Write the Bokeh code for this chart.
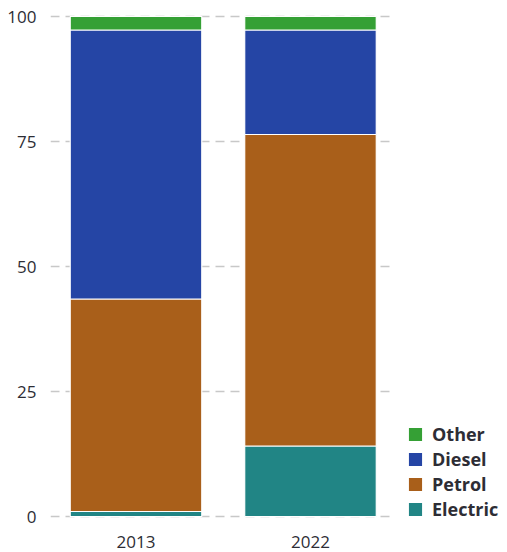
from bokeh.plotting import figure
from bokeh.models import Range1d, Legend, LegendItem, FixedTicker, ColumnDataSource
from bokeh.embed import file_html
from bokeh.resources import INLINE

years = ["2013", "2022"]
fuels = ["Electric", "Petrol", "Diesel", "Other"]
electric = [1.0, 14.1]
petrol = [42.5, 62.3]
diesel = [53.8, 20.9]
other = [2.7, 2.7]
colors = ["#218585", "#a95f1a", "#2545a5", "#35a035"]
y_ticks = [0, 25, 50, 75, 100]

FONT = "Open Sans"
xs = list(range(len(years)))
src = ColumnDataSource(dict(x=xs, Electric=electric, Petrol=petrol, Diesel=diesel, Other=other))

p = figure(frame_width=342, frame_height=506, output_backend="svg", toolbar_location=None,
           x_range=Range1d(-0.49, 1.47), y_range=Range1d(-0.4, 100.8),
           min_border_left=50, min_border_top=12, min_border_bottom=36, min_border_right=0)
p.outline_line_color = None

rs = p.vbar_stack(fuels, x="x", width=0.754, color=colors, source=src,
                  line_color="white", line_width=1.2)

p.xgrid.grid_line_color = None
p.ygrid.grid_line_color = "#c8c8c8"
p.ygrid.grid_line_dash = "9 6"
p.ygrid.grid_line_width = 1.5

p.yaxis.ticker = FixedTicker(ticks=y_ticks)
p.xaxis.ticker = FixedTicker(ticks=xs)
p.xaxis.major_label_overrides = {i: y for i, y in enumerate(years)}
for ax in (p.xaxis[0], p.yaxis[0]):
    ax.axis_line_color = None
    ax.major_tick_line_color = None
    ax.minor_tick_line_color = None
    ax.major_label_text_font = FONT
    ax.major_label_text_font_size = "17px"
    ax.major_label_text_color = "#2d2d35"
p.yaxis.major_label_standoff = 8
p.xaxis.major_label_standoff = 11

items = [LegendItem(label=f, renderers=[r]) for f, r in zip(fuels, rs)][::-1]
legend = Legend(items=items, location=(14, -3), border_line_color=None,
                background_fill_alpha=0, label_text_font=FONT, label_text_font_size="18px",
                label_text_font_style="bold", label_text_color="#2d2d35",
                glyph_width=18, glyph_height=18, label_height=20, spacing=1,
                padding=0, margin=0, label_standoff=8)
p.add_layout(legend, "right")

open("out.html", "w").write(file_html(p, INLINE))
